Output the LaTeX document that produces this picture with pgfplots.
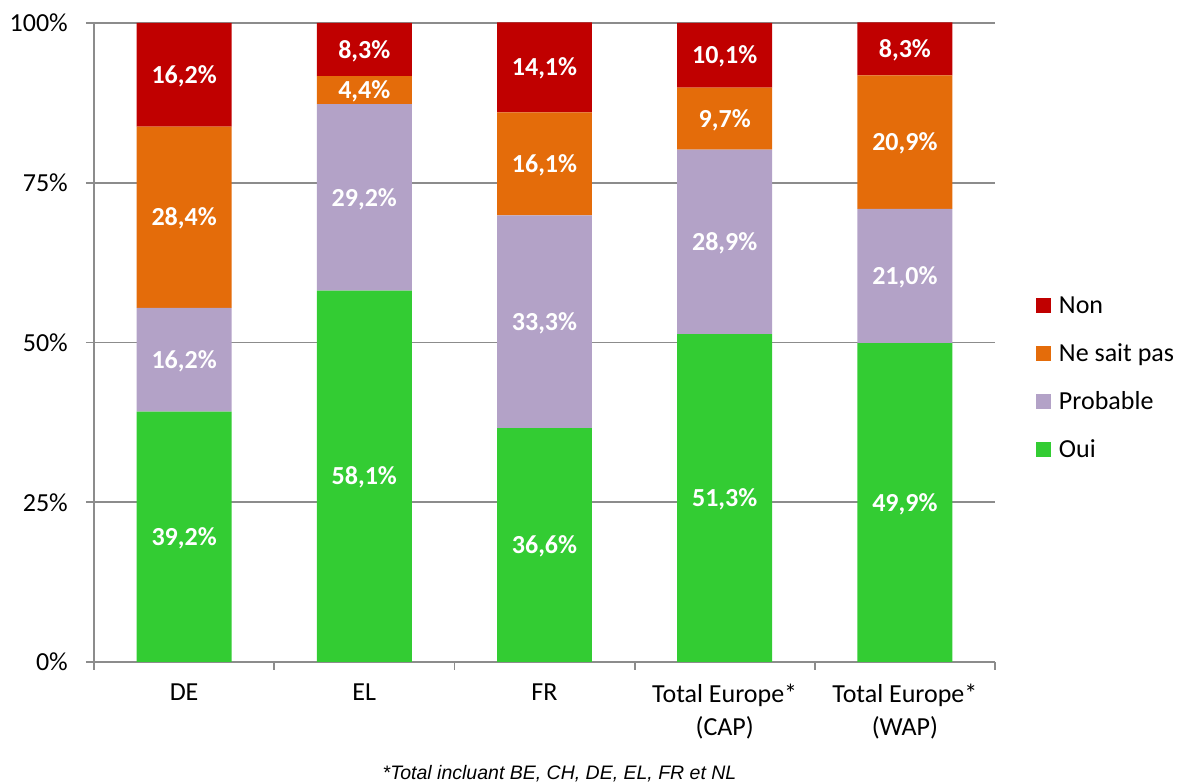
\documentclass[border=0pt]{standalone}
\usepackage{fontspec}
\setmainfont{Carlito}
\newfontfamily\footfont{Liberation Sans}
\usepackage{pgfplots}
\pgfplotsset{compat=1.18}
\usepackage{pgfplotstable}
\definecolor{cNon}{HTML}{C00000}
\definecolor{cNSP}{HTML}{E46C0A}
\definecolor{cProb}{HTML}{B3A2C7}
\definecolor{cOui}{HTML}{33CC33}
\definecolor{gridgray}{HTML}{8C8C8C}
\pgfplotstableread{
x y
0 39.2
1 58.1
2 36.6
3 51.3
4 49.9
}\oui
\pgfplotstableread{
x y
0 16.2
1 29.2
2 33.3
3 28.9
4 21.0
}\prob
\pgfplotstableread{
x y
0 28.4
1 4.4
2 16.1
3 9.7
4 20.9
}\nsp
\pgfplotstableread{
x y
0 16.2
1 8.3
2 14.1
3 10.1
4 8.3
}\non
\begin{document}
\begin{tikzpicture}[x=1pt,y=1pt,font=\fontsize{26}{33}\selectfont]
\path[use as bounding box] (0,0) rectangle (1179,783);
\begin{axis}[
  at={(94pt,121pt)}, anchor=south west,
  scale only axis, width=901pt, height=639pt,
  xmin=-0.5, xmax=4.5, ymin=0, ymax=100,
  clip=false,
  ybar stacked, bar width=0.527,
  axis x line*=bottom, axis y line*=left,
  axis line style={draw=gridgray, line width=1.8pt, -},
  ytick={0,25,50,75,100},
  yticklabels={0\%,25\%,50\%,75\%,100\%},
  ymajorgrids, grid style={draw=gridgray, line width=1.8pt},
  xtick={-0.5,0.5,1.5,2.5,3.5,4.5},
  x tick label as interval,
  xticklabels={DE,EL,FR,{Total Europe*\\(CAP)},{Total Europe*\\(WAP)}},
  tick align=outside, major tick length=8pt,
  tick style={draw=gridgray, line width=1.8pt},
  /pgf/number format/assume math mode=true,
  tick label style={font=\fontsize{26}{33}\selectfont, text=black},
  xticklabel style={align=center, inner sep=0pt, yshift=-14pt},
  yticklabel style={inner sep=0pt, xshift=-18pt},
  point meta=explicit,
  nodes near coords={\raisebox{-8.6pt}[0pt][0pt]{\pgfmathprintnumber[fixed,fixed zerofill,precision=1,use comma]{\pgfplotspointmeta}\%}},
  every node near coord/.append style={text=white, font=\fontsize{26}{33}\selectfont\bfseries, anchor=base, inner sep=0pt},
  every axis plot post/.append style={legend image code/.code={\fill[##1] (0pt,0pt) rectangle (15pt,15pt);}},
  reverse legend,
  legend cell align=left,
  legend style={at={(1.0455,0.5743)}, anchor=north west, draw=none, fill=none,
    inner sep=0pt, outer sep=0pt, font=\fontsize{26}{33}\selectfont,
    nodes={inner sep=0pt, anchor=base west, text height=18pt, text depth=6pt},
    row sep=24pt, /tikz/every odd column/.style={column sep=8pt}},
]
\addplot[fill=cOui, draw=none] table[x=x,y=y,meta=y]{\oui};
\addplot[fill=cProb, draw=none] table[x=x,y=y,meta=y]{\prob};
\addplot[fill=cNSP, draw=none] table[x=x,y=y,meta=y]{\nsp};
\addplot[fill=cNon, draw=none] table[x=x,y=y,meta=y]{\non};
\legend{Oui,Probable,Ne sait pas,Non}
\end{axis}
\node[anchor=base, font=\footfont\fontsize{19.5}{23}\selectfont\itshape, inner sep=0pt] at (559.5,3) {*Total incluant BE, CH, DE, EL, FR et NL};
\end{tikzpicture}
\end{document}
